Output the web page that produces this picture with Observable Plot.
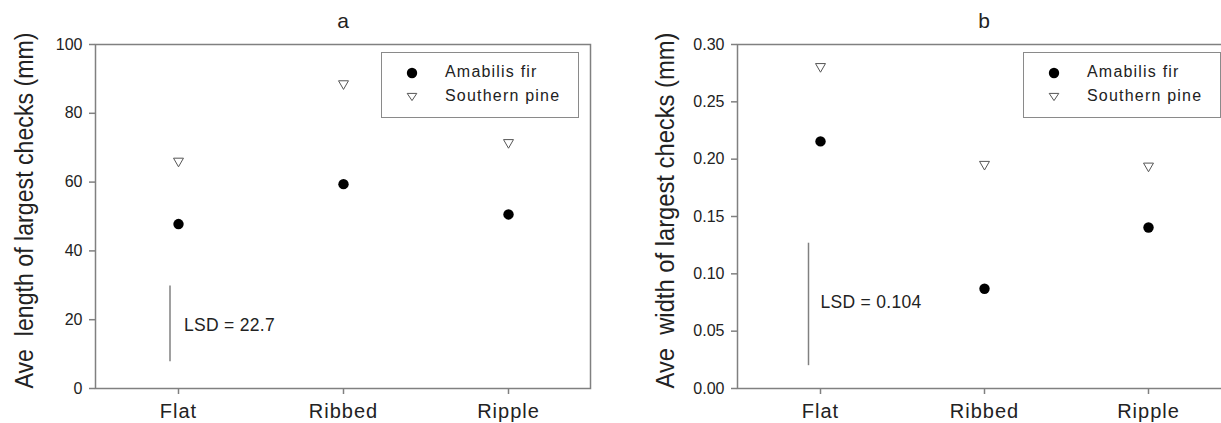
<!DOCTYPE html>
<html><head><meta charset="utf-8">
<script src="https://cdn.jsdelivr.net/npm/d3@7"></script>
<script src="https://cdn.jsdelivr.net/npm/@observablehq/plot@0.6"></script>
<style>
html,body{margin:0;padding:0;background:#fff;overflow:hidden;}
#wrap{position:relative;width:1221px;height:423px;overflow:hidden;background:#fff;}
.panel{position:absolute;top:0;height:423px;}
.panel svg{max-width:none !important;display:block;}
.panel svg text{white-space:pre;}
.panel g[aria-label="x-axis tick label"] text{letter-spacing:1px;}
.legend{position:absolute;box-sizing:border-box;border:1.5px solid #8a8a8a;background:#fff;}
.lrow{position:absolute;font-size:16px;color:#222;letter-spacing:1.2px;line-height:1;white-space:nowrap;}
</style></head>
<body><div id="wrap"></div>
<script>
const FONT = '"Liberation Sans", Arial, Helvetica, sans-serif';
const categories = ["Flat", "Ribbed", "Ripple"];
const seriesNames = ["Amabilis fir", "Southern pine"];
// Panel a: length (mm)
const lengthFir = [47.8, 59.4, 50.6];
const lengthPine = [65.7, 88.2, 71.1];
const lengthTicks = [0, 20, 40, 60, 80, 100];
const lengthLSD = {label: "LSD = 22.7", y1: 7.8, y2: 29.8, yText: 18.3};
// Panel b: width (mm)
const widthFir = [0.2155, 0.087, 0.1404];
const widthPine = [0.2796, 0.1943, 0.1928];
const widthTicks = [0, 0.05, 0.10, 0.15, 0.20, 0.25, 0.30];
const widthLSD = {label: "LSD = 0.104", y1: 0.0199, y2: 0.1267, yText: 0.0748};

const triangleDown = {
  draw(context, size) {
    const s = Math.sqrt(size * 4 / Math.sqrt(3));
    const h = s * Math.sqrt(3) / 2;
    context.moveTo(-s / 2, -h / 2);
    context.lineTo(s / 2, -h / 2);
    context.lineTo(0, h / 2);
    context.closePath();
  }
};

const GRAY = "#808080";

function makePanel(cfg) {
  const fir = categories.map((c, i) => ({cat: c, v: cfg.fir[i]}));
  const pine = categories.map((c, i) => ({cat: c, v: cfg.pine[i]}));
  const lsd = [{cat: categories[0], ...cfg.lsd}];
  const plot = Plot.plot({
    width: cfg.width, height: 423,
    marginLeft: cfg.marginLeft, marginRight: 20, marginTop: 44, marginBottom: 35,
    x: {type: "point", domain: categories, padding: 0.5},
    y: {domain: cfg.domain},
    style: {fontFamily: FONT, color: "#222", background: "white", overflow: "visible"},
    marks: [
      Plot.axisY({ticks: cfg.ticks, tickFormat: cfg.format, tickSize: 6, tickPadding: 7, fontSize: 16, stroke: GRAY, strokeWidth: 1.5, label: null}),
      Plot.axisX({tickSize: 6, tickPadding: 9, fontSize: 20, stroke: GRAY, strokeWidth: 1.5, label: null}),
      Plot.frame({stroke: GRAY, strokeWidth: 1.5}),
      Plot.ruleX(lsd, {x: "cat", y1: "y1", y2: "y2", dx: cfg.lsdLineDx, stroke: GRAY, strokeWidth: 1.5}),
      Plot.text(lsd, {x: "cat", y: "yText", text: "label", dx: cfg.lsdTextDx, textAnchor: "start", fontSize: 17.5, fill: "#222"}),
      Plot.dot(fir, {x: "cat", y: "v", r: 5.2, fill: "black"}),
      Plot.dot(pine, {x: "cat", y: "v", r: 3.7, symbol: triangleDown, stroke: "#555", fill: "white", strokeWidth: 1}),
      Plot.text([cfg.title], {frameAnchor: "top", dy: -17, lineAnchor: "bottom", fontSize: 21, fill: "#222"}),
      Plot.text([cfg.yLabel], {frameAnchor: "left", rotate: -90, dx: cfg.yLabelDx, dy: -6, textAnchor: "middle", lineAnchor: "middle", fontSize: 25, fill: "#222"})
    ]
  });
  plot.querySelectorAll("text").forEach((t) => {
    if (t.textContent === cfg.yLabel) {
      t.setAttribute("textLength", "356");
      t.setAttribute("lengthAdjust", "spacingAndGlyphs");
    } else if (t.textContent === cfg.lsd.label) {
      t.style.letterSpacing = "0.3px";
    }
  });
  const div = document.createElement("div");
  div.className = "panel";
  div.style.left = cfg.left + "px";
  div.style.width = cfg.width + "px";
  div.appendChild(plot);
  // legend box
  const lg = document.createElement("div");
  lg.className = "legend";
  const boxLeft = cfg.marginLeft + 286;
  lg.style.left = boxLeft + "px"; lg.style.top = "52px";
  lg.style.width = "198px"; lg.style.height = "66px";
  div.appendChild(lg);
  const rows = [73, 97];
  seriesNames.forEach((name, i) => {
    const sym = document.createElementNS("http://www.w3.org/2000/svg", "svg");
    sym.setAttribute("width", 14); sym.setAttribute("height", 14);
    sym.style.position = "absolute";
    sym.style.left = (boxLeft + 31 - 7) + "px";
    sym.style.top = (rows[i] - 7) + "px";
    if (i === 0) {
      sym.innerHTML = '<circle cx="7" cy="7" r="5.2" fill="black"/>';
    } else {
      sym.innerHTML = '<path d="M2.2,3.4L11.8,3.4L7,10.6Z" fill="white" stroke="#555" stroke-width="1"/>';
    }
    div.appendChild(sym);
    const t = document.createElement("div");
    t.className = "lrow";
    t.style.fontFamily = FONT;
    t.textContent = name;
    t.style.left = (boxLeft + 64) + "px";
    t.style.top = (rows[i] - 9) + "px";
    div.appendChild(t);
  });
  document.getElementById("wrap").appendChild(div);
}

makePanel({
  title: "a", yLabel: "Ave  length of largest checks (mm)",
  fir: lengthFir, pine: lengthPine, domain: [0, 100], ticks: lengthTicks,
  format: d3.format("d"), lsd: lengthLSD,
  left: 0, width: 610, marginLeft: 95, yLabelDx: -71, lsdLineDx: -8.5, lsdTextDx: 5.5
});
makePanel({
  title: "b", yLabel: "Ave  width of largest checks (mm)",
  fir: widthFir, pine: widthPine, domain: [0, 0.30], ticks: widthTicks,
  format: d3.format(".2f"), lsd: widthLSD,
  left: 610, width: 640, marginLeft: 127, yLabelDx: -72, lsdLineDx: -12, lsdTextDx: 0
});
</script>
</body></html>
